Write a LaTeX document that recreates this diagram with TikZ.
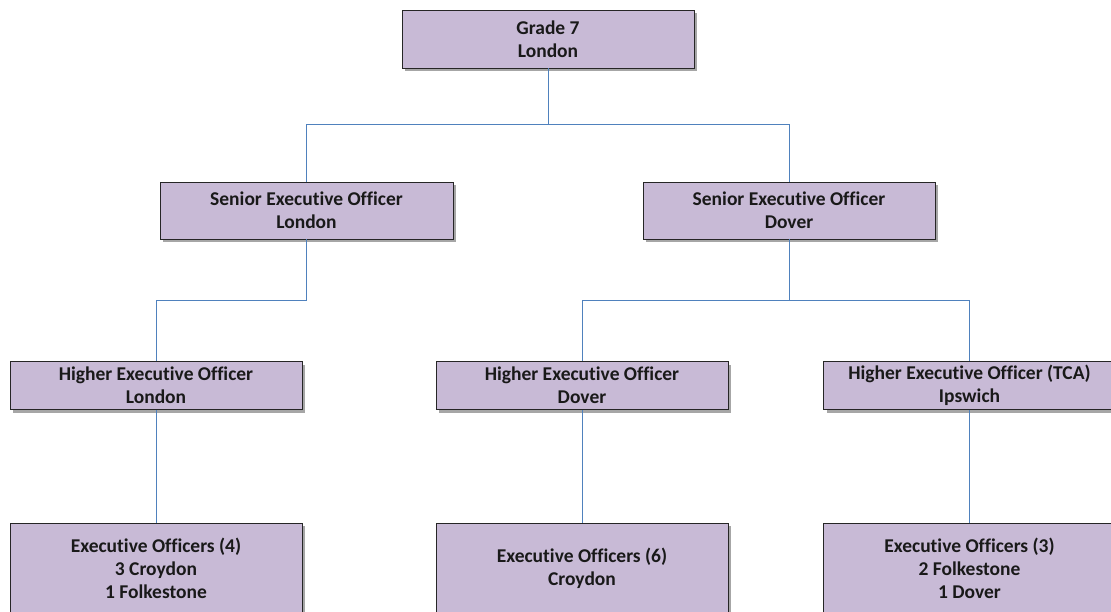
\documentclass[tikz,border=0pt]{standalone}
\usepackage{fontspec}
\setmainfont{Carlito}[Ligatures=NoCommon]
\usetikzlibrary{positioning,shadows}

\definecolor{boxfill}{RGB}{200,186,214}
\definecolor{boxline}{RGB}{38,38,38}
\definecolor{linkblue}{RGB}{79,129,189}

\tikzset{
  post/.style={draw=boxline, line width=0.9pt, fill=boxfill, align=center,
    font=\fontsize{19.5}{23}\selectfont\bfseries, text=black!90, inner sep=0pt,
    drop shadow={shadow xshift=3pt, shadow yshift=-3pt, fill=black, opacity=0.35}},
  link/.style={draw=linkblue, line width=0.8pt}
}

\begin{document}
\begin{tikzpicture}[x=1pt, y=-1pt]
  \useasboundingbox (0,0) rectangle (1111,612);
  \clip (0,0) rectangle (1111,612);

  % top of the chain
  \node[post, minimum width=292pt, minimum height=58pt] (grade) at (548,39) {Grade 7\\London};

  % senior executive officers
  \node[post, minimum width=293pt, minimum height=57pt] (seoL) at (306.5,210.5) {Senior Executive Officer\\London};
  \node[post, minimum width=292pt, minimum height=57pt] (seoD) at (789,210.5) {Senior Executive Officer\\Dover};

  % higher executive officers
  \node[post, minimum width=292pt, minimum height=48pt] (heoL) at (156,385.5) {Higher Executive Officer\\London};
  \node[post, minimum width=292pt, minimum height=48pt] (heoD) at (582,385.5) {Higher Executive Officer\\Dover};
  \node[post, minimum width=292pt, minimum height=48pt] (heoT) at (969.5,385.5) {Higher Executive Officer (TCA)\\Ipswich};

  % executive officers
  \node[post, minimum width=292pt, minimum height=90pt] (eoL) at (156,568) {Executive Officers (4)\\3 Croydon\\1 Folkestone};
  \node[post, minimum width=292pt, minimum height=90pt] (eoD) at (582,568) {Executive Officers (6)\\Croydon};
  \node[post, minimum width=292pt, minimum height=90pt] (eoT) at (969.5,568) {Executive Officers (3)\\2 Folkestone\\1 Dover};

  \draw[link] (grade.south) -- ++(0,56) -| (seoL.north);
  \draw[link] (grade.south) -- ++(0,56) -| (seoD.north);
  \draw[link] (seoL.south) -- ++(0,61) -| (heoL.north);
  \draw[link] (seoD.south) -- ++(0,61) -| (heoD.north);
  \draw[link] (seoD.south) -- ++(0,61) -| (heoT.north);
  \draw[link] (heoL.south) -- (eoL.north);
  \draw[link] (heoD.south) -- (eoD.north);
  \draw[link] (heoT.south) -- (eoT.north);
\end{tikzpicture}
\end{document}
